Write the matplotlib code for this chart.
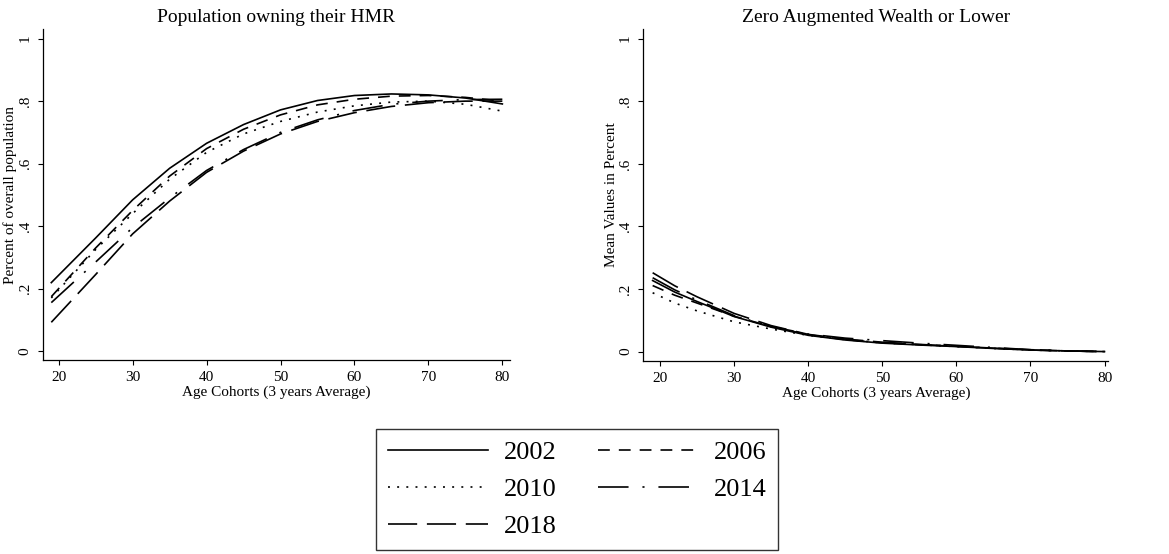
import matplotlib as mpl
mpl.use('agg')
import matplotlib.pyplot as plt

plt.rcParams['font.family'] = ['Liberation Serif', 'DejaVu Serif']
plt.rcParams['lines.scale_dashes'] = False

years = ['2002', '2006', '2010', '2014', '2018']

# home ownership (HMR) by age cohort
ages_hmr = [19, 25, 30, 35, 40, 45, 50, 55, 60, 65, 70, 75, 80]
hmr_2002 = [0.219, 0.362, 0.484, 0.585, 0.665, 0.725, 0.772, 0.802, 0.818, 0.823, 0.820, 0.810, 0.791]
hmr_2006 = [0.174, 0.330, 0.450, 0.560, 0.648, 0.710, 0.756, 0.788, 0.806, 0.816, 0.818, 0.812, 0.800]
hmr_2010 = [0.170, 0.325, 0.440, 0.550, 0.636, 0.695, 0.735, 0.765, 0.785, 0.797, 0.800, 0.790, 0.768]
hmr_2014 = [0.155, 0.285, 0.395, 0.490, 0.578, 0.645, 0.700, 0.740, 0.770, 0.790, 0.800, 0.805, 0.806]
hmr_2018 = [0.092, 0.245, 0.375, 0.480, 0.572, 0.640, 0.695, 0.735, 0.763, 0.783, 0.795, 0.800, 0.800]

# share with zero augmented wealth or lower
ages_zero = [19, 22, 25, 30, 35, 40, 45, 50, 55, 60, 65, 70, 75, 80]
zero_2002 = [0.227, 0.190, 0.160, 0.112, 0.078, 0.052, 0.037, 0.027, 0.021, 0.016, 0.010, 0.005, 0.002, 0.0]
zero_2006 = [0.211, 0.180, 0.155, 0.113, 0.080, 0.054, 0.038, 0.028, 0.022, 0.017, 0.011, 0.006, 0.002, 0.0]
zero_2010 = [0.188, 0.155, 0.130, 0.095, 0.072, 0.052, 0.038, 0.028, 0.022, 0.016, 0.010, 0.005, 0.002, 0.0]
zero_2014 = [0.236, 0.197, 0.165, 0.115, 0.080, 0.056, 0.043, 0.035, 0.027, 0.020, 0.013, 0.006, 0.002, 0.0]
zero_2018 = [0.252, 0.210, 0.175, 0.122, 0.083, 0.055, 0.040, 0.030, 0.023, 0.017, 0.011, 0.005, 0.002, 0.0]

yticks = [0, 0.2, 0.4, 0.6, 0.8, 1]
yticklabels = ['0', '.2', '.4', '.6', '.8', '1']
xticks = [20, 30, 40, 50, 60, 70, 80]

styles = ['-', (0, (8.5, 6.5)), (0, (1.4, 5.2)), (0, (22, 10, 1.5, 10)), (0, (21, 7))]

fig = plt.figure(figsize=(11.69, 5.54), dpi=100)
ax1 = fig.add_axes([0.0368, 0.350, 0.3995, 0.5977])
ax2 = fig.add_axes([0.5503, 0.349, 0.3977, 0.5987])


def draw(ax, ages, series, title, ylabel, xlim):
    lines = []
    for vals, ls, yr in zip(series, styles, years):
        ln, = ax.plot(ages, vals, color='black', lw=1.2, linestyle=ls, label=yr)
        lines.append(ln)
    ax.set_xlim(*xlim)
    ax.set_ylim(-0.029, 1.031)
    ax.set_xticks(xticks)
    ax.set_yticks(yticks)
    ax.set_yticklabels(yticklabels, rotation=90, va='center')
    ax.tick_params(direction='out', length=3.6, width=0.8, labelsize=11, pad=4.5)
    for s in ['top', 'right']:
        ax.spines[s].set_visible(False)
    for s in ['left', 'bottom']:
        ax.spines[s].set_linewidth(0.9)
    ax.set_title(title, fontsize=14, pad=5)
    ax.set_xlabel('Age Cohorts (3 years Average)', fontsize=11, labelpad=1)
    ax.set_ylabel(ylabel, fontsize=11, labelpad=1)
    return lines


handles = draw(ax1, ages_hmr, [hmr_2002, hmr_2006, hmr_2010, hmr_2014, hmr_2018],
               'Population owning their HMR', 'Percent of overall population', (17.88, 81.04))
draw(ax2, ages_zero, [zero_2002, zero_2006, zero_2010, zero_2014, zero_2018],
     'Zero Augmented Wealth or Lower', 'Mean Values in Percent', (17.74, 80.5))

# legend reads row by row: 2002 2006 / 2010 2014 / 2018
order = [0, 2, 4, 1, 3]
leg = fig.legend([handles[i] for i in order], [years[i] for i in order], ncol=2,
                 loc='center', bbox_to_anchor=(0.4936, 0.1164),
                 fontsize=19, frameon=True, fancybox=False, edgecolor='black',
                 handlelength=3.8, handletextpad=0.6, columnspacing=1.55,
                 labelspacing=0.52, borderpad=0.45)
leg.get_frame().set_linewidth(1.0)

fig.savefig('out.png', dpi=100)
